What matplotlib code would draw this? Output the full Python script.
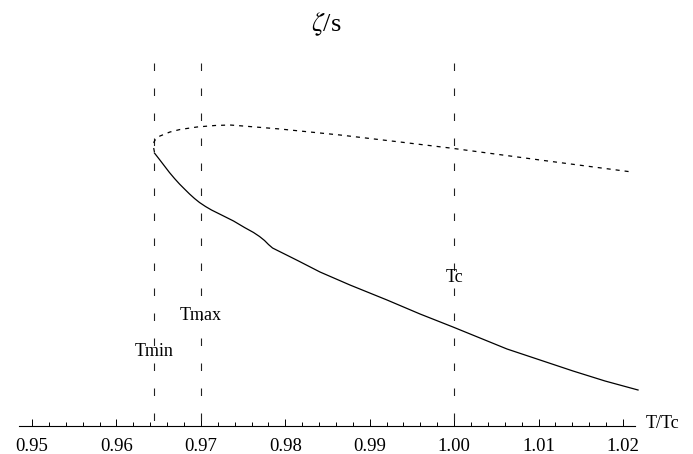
import matplotlib.pyplot as plt
from matplotlib.ticker import FixedLocator

plt.rcParams['font.family'] = ['Liberation Serif', 'DejaVu Serif']
plt.rcParams['mathtext.fontset'] = 'stix'
plt.rcParams['lines.scale_dashes'] = False

# marked temperatures (T/Tc)
t_min = 0.9645
t_max = 0.97
t_c = 1.00
marks = [t_min, t_max, t_c]
mark_names = ['Tmin', 'Tmax', 'Tc']
mark_label_y = [0.074, 0.111, 0.149]

# lower (solid) branch
t_lower = [0.9645, 0.96510, 0.96569, 0.96628, 0.96688, 0.96747, 0.96806, 0.96866,
           0.96925, 0.96984, 0.97055, 0.97126, 0.97245, 0.97387, 0.97517, 0.97624,
           0.97695, 0.97754, 0.97801, 0.97849, 0.97908, 0.98015, 0.98157, 0.98411,
           0.98766, 0.99205, 0.99596, 0.99986, 1.00306, 1.00626, 1.01017, 1.01408,
           1.01787, 1.02178]
zeta_lower = [0.273, 0.2665, 0.260, 0.2535, 0.2475, 0.242, 0.237, 0.232,
              0.2275, 0.2235, 0.2195, 0.216, 0.211, 0.205, 0.1985, 0.1935,
              0.1895, 0.1855, 0.1815, 0.178, 0.1755, 0.171, 0.165, 0.154,
              0.141, 0.126, 0.112, 0.099, 0.088, 0.077, 0.066, 0.055,
              0.045, 0.036]

# upper (dotted) branch
t_upper = [0.9645, 0.96439, 0.96445, 0.96469, 0.96516, 0.96634, 0.96753, 0.96954,
           0.97167, 0.97345, 0.97499, 0.97937, 0.98648, 0.99359, 0.99951, 1.01017,
           1.02107]
zeta_upper = [0.274, 0.279, 0.284, 0.2875, 0.290, 0.294, 0.2965, 0.299,
              0.3005, 0.301, 0.300, 0.297, 0.291, 0.284, 0.278, 0.266,
              0.254]

tick_vals = [0.95, 0.96, 0.97, 0.98, 0.99, 1.00, 1.01, 1.02]
minor_vals = [0.95 + 0.002 * i for i in range(36)]

fig = plt.figure(figsize=(6.93, 4.54), dpi=100)
ax = fig.add_axes([0, 0, 1, 1])

for t in marks:
    ax.plot([t, t], [0.363, 0.0], color='#222222', lw=0.8, dashes=(5.4, 12.6))
for t, name, y in zip(marks, mark_names, mark_label_y):
    ax.text(t, y, name, ha='center', va='center', fontsize=13)

ax.plot(t_lower, zeta_lower, color='black', lw=0.9)
ax.plot(t_upper, zeta_upper, color='black', lw=0.9, dashes=(2.9, 3.6))

ax.set_xlim(0.946210, 1.028290)
ax.set_ylim(-0.028, 0.426)

for side in ['left', 'right', 'top']:
    ax.spines[side].set_visible(False)
ax.spines['bottom'].set_position(('data', 0))
ax.spines['bottom'].set_bounds(0.94846, 1.02142)
ax.spines['bottom'].set_linewidth(0.8)

ax.set_xticks(tick_vals)
ax.set_xticklabels(['%.2f' % v for v in tick_vals])
ax.xaxis.set_minor_locator(FixedLocator(minor_vals))
ax.tick_params(axis='x', which='major', direction='in', length=5, width=0.7,
               pad=8.5, labelsize=13.5)
ax.tick_params(axis='x', which='minor', direction='in', length=3, width=0.7)
ax.set_yticks([])

ax.text(1.02272, 0.003, 'T/Tc', ha='left', va='center', fontsize=13)
fig.text(326 / 693, 1 - 24 / 454, r'$\zeta$/s', ha='center', va='center', fontsize=19)

fig.savefig('out.png', dpi=100)
